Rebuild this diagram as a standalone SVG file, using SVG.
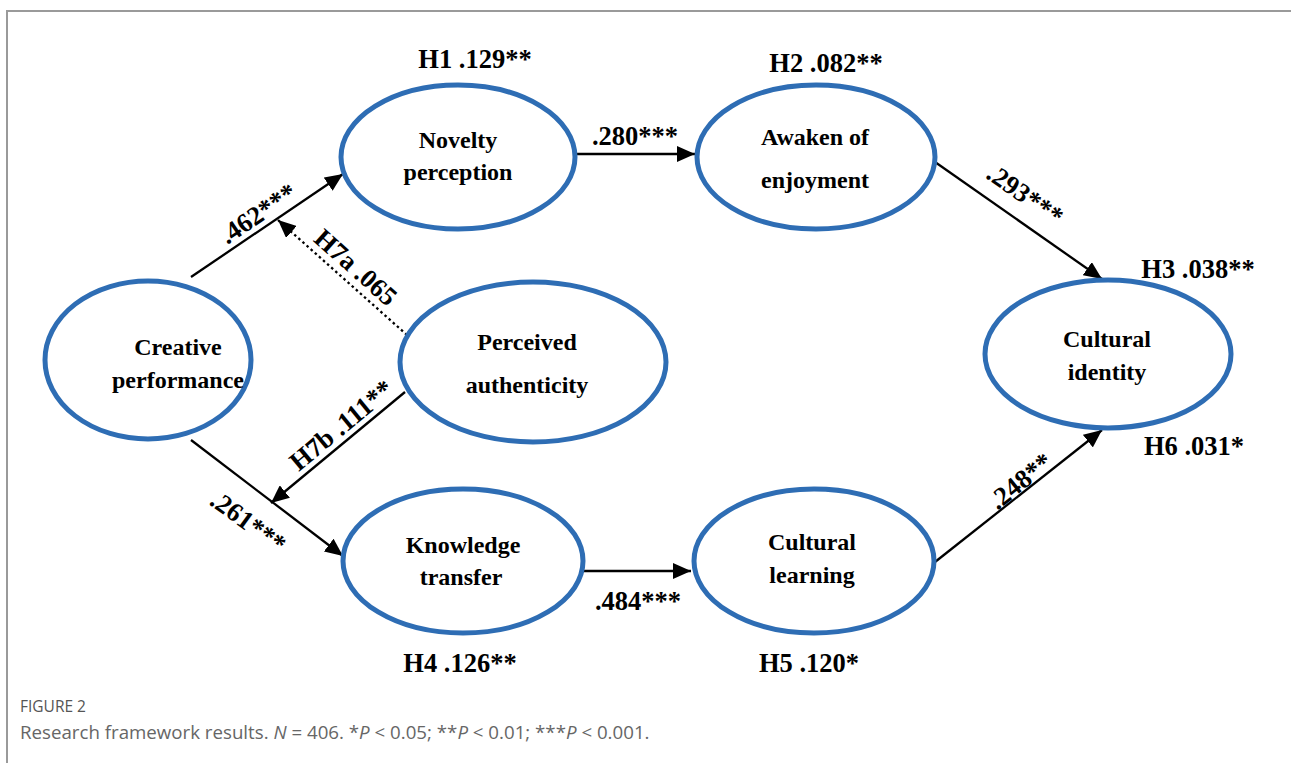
<svg xmlns="http://www.w3.org/2000/svg" width="1291" height="763" viewBox="0 0 1291 763">
<style>
.node ellipse{fill:#fff;stroke:#2e6db4;stroke-width:5}
.nt{font-family:"Liberation Serif","Times New Roman",serif;font-weight:bold;font-size:24px;fill:#000;text-anchor:middle}
.lb{font-family:"Liberation Serif","Times New Roman",serif;font-weight:bold;font-size:26.5px;fill:#000;text-anchor:middle}
.edge{stroke:#000;stroke-width:2.3;fill:none;marker-end:url(#ah)}
.dot{stroke-dasharray:2.5 3}
.cap1{font-family:"Open Sans","Noto Sans",sans-serif;font-size:15.5px;fill:#555}
.cap2{font-family:"Open Sans","Noto Sans",sans-serif;font-size:18.7px;fill:#666}
</style>
<defs>
<marker id="ah" markerUnits="userSpaceOnUse" markerWidth="20" markerHeight="16" refX="18" refY="8" orient="auto">
<path d="M0,0 L18,8 L0,16 Z" fill="#000"/>
</marker>
</defs>
<rect width="1291" height="763" fill="#fff"/>
<path d="M7,763 V11 H1291" fill="none" stroke="#9a9a9a" stroke-width="2"/>

<g id="connectors">
<line class="edge" x1="191" y1="277" x2="343" y2="174"/>
<line class="edge dot" x1="407" y1="335" x2="278" y2="220"/>
<line class="edge" x1="577" y1="154" x2="695" y2="154"/>
<line class="edge" x1="935" y1="162" x2="1102" y2="279"/>
<line class="edge" x1="191" y1="440" x2="343" y2="556"/>
<line class="edge" x1="405" y1="392" x2="271" y2="503"/>
<line class="edge" x1="582" y1="571" x2="691" y2="571"/>
<line class="edge" x1="935" y1="562" x2="1102" y2="430"/>
<text class="lb" x="263" y="221" transform="rotate(-34 263 221)">.462***</text>
<text class="lb" x="350" y="274" transform="rotate(41.7 350 274)">H7a .065</text>
<text class="lb" x="347" y="432" transform="rotate(-39.6 347 432)">H7b .111**</text>
<text class="lb" x="243" y="529" transform="rotate(36 243 529)">.261***</text>
<text class="lb" x="1020" y="202" transform="rotate(35 1020 202)">.293***</text>
<text class="lb" x="1026" y="488" transform="rotate(-38.7 1026 488)">.248**</text>
<text class="lb" x="635" y="145">.280***</text>
<text class="lb" x="638" y="610">.484***</text>
</g>

<g id="creative" class="node">
<ellipse cx="148" cy="360" rx="103" ry="79"/>
<text class="nt" x="178" y="355">Creative</text>
<text class="nt" x="178" y="388">performance</text>
</g>
<g id="novelty" class="node">
<ellipse cx="458" cy="157" rx="117" ry="72"/>
<text class="nt" x="458" y="148">Novelty</text>
<text class="nt" x="458" y="180">perception</text>
<text class="lb" x="475" y="68">H1 .129**</text>
</g>
<g id="awaken" class="node">
<ellipse cx="816" cy="157" rx="119" ry="72"/>
<text class="nt" x="815" y="145">Awaken of</text>
<text class="nt" x="815" y="188">enjoyment</text>
<text class="lb" x="826" y="72">H2 .082**</text>
</g>
<g id="perceived" class="node">
<ellipse cx="533" cy="362" rx="133" ry="80"/>
<text class="nt" x="527" y="350">Perceived</text>
<text class="nt" x="527" y="393">authenticity</text>
</g>
<g id="identity" class="node">
<ellipse cx="1108" cy="354" rx="123" ry="74"/>
<text class="nt" x="1107" y="347">Cultural</text>
<text class="nt" x="1107" y="380">identity</text>
<text class="lb" x="1198" y="278">H3 .038**</text>
<text class="lb" x="1194" y="455">H6 .031*</text>
</g>
<g id="knowledge" class="node">
<ellipse cx="463" cy="561" rx="120" ry="72"/>
<text class="nt" x="463" y="553">Knowledge</text>
<text class="nt" x="461" y="585">transfer</text>
<text class="lb" x="460" y="672">H4 .126**</text>
</g>
<g id="learning" class="node">
<ellipse cx="814" cy="561" rx="120" ry="72"/>
<text class="nt" x="812" y="550">Cultural</text>
<text class="nt" x="812" y="583">learning</text>
<text class="lb" x="809" y="672">H5 .120*</text>
</g>

<text class="cap1" x="20" y="712">FIGURE 2</text>
<text class="cap2" x="20" y="739">Research framework results. <tspan font-style="italic">N</tspan> = 406. *<tspan font-style="italic">P</tspan> &lt; 0.05; **<tspan font-style="italic">P</tspan> &lt; 0.01; ***<tspan font-style="italic">P</tspan> &lt; 0.001.</text>
</svg>
